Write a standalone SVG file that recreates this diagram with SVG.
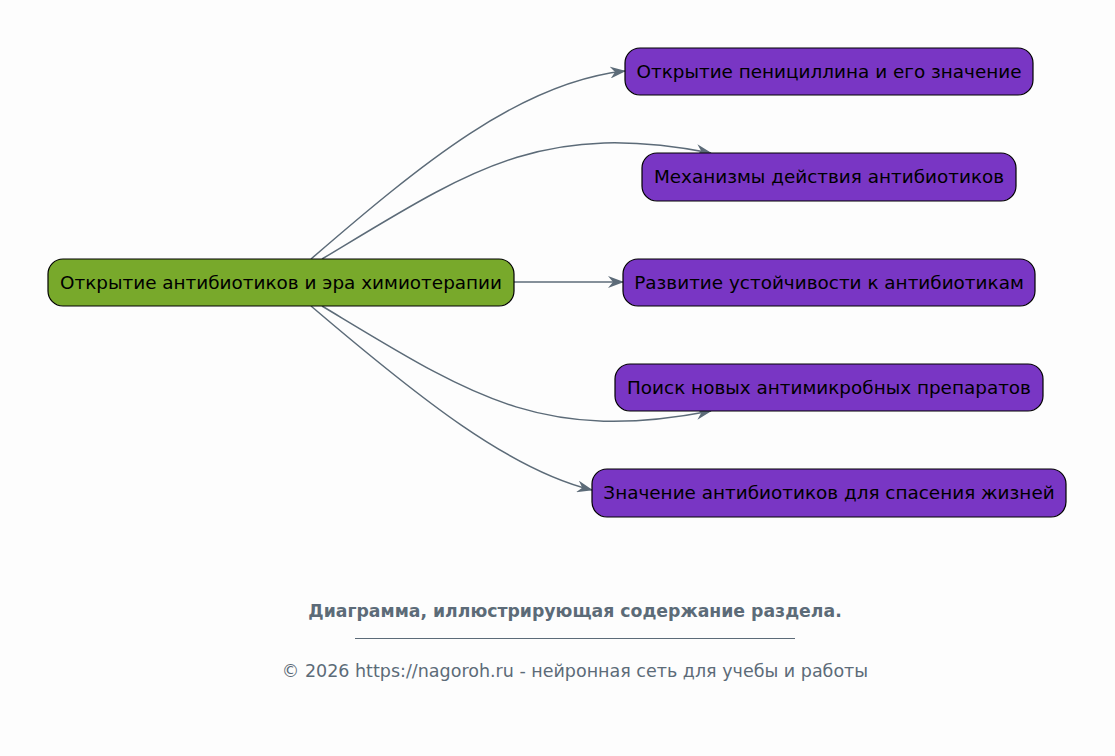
<svg xmlns="http://www.w3.org/2000/svg" width="1115" height="756" viewBox="0 0 1115 756">
<style>
.node rect{stroke:#000;stroke-width:1.2}
.root rect{fill:#78a92b}
.child rect{fill:#7936c4}
.node text{font-family:"DejaVu Sans",sans-serif;font-size:18.4px;fill:#000;text-anchor:middle;dominant-baseline:central}
.edge{fill:none;stroke:#5c6b78;stroke-width:1.5;marker-end:url(#arr)}
.foot{font-family:"DejaVu Sans",sans-serif;fill:#5c6b78;text-anchor:middle}
</style>
<defs>
<marker id="arr" viewBox="0 0 16 12" refX="15" refY="6" markerWidth="16" markerHeight="12" markerUnits="userSpaceOnUse" orient="auto">
<path d="M0,0 L16,6 L0,12 L5,6 z" fill="#5c6b78"/>
</marker>
</defs>
<rect width="1115" height="756" fill="#fdfdfd"/>
<g id="connectors">
<path class="edge" d="M311,259 C420,165 520,82 625,71"/>
<path class="edge" d="M322,259 C470,170 540,120 711,153"/>
<path class="edge" d="M514,282 L623,282"/>
<path class="edge" d="M322,306 C470,395 540,444 711,411"/>
<path class="edge" d="M311,306 C420,399 510,470 592,490"/>
</g>
<g id="root" class="node root"><rect x="48" y="259" width="466" height="47" rx="15"/><text x="281" y="282.5">Открытие антибиотиков и эра химиотерапии</text></g>
<g id="n1" class="node child"><rect x="625" y="48" width="408" height="47" rx="15"/><text x="829" y="71.5">Открытие пенициллина и его значение</text></g>
<g id="n2" class="node child"><rect x="642" y="153" width="374" height="48" rx="15"/><text x="829" y="176.5">Механизмы действия антибиотиков</text></g>
<g id="n3" class="node child"><rect x="623" y="259" width="412" height="47" rx="15"/><text x="829" y="282.5">Развитие устойчивости к антибиотикам</text></g>
<g id="n4" class="node child"><rect x="615" y="364" width="428" height="47" rx="15"/><text x="829" y="387.5">Поиск новых антимикробных препаратов</text></g>
<g id="n5" class="node child"><rect x="592" y="469" width="474" height="48" rx="15"/><text x="829" y="492.5">Значение антибиотиков для спасения жизней</text></g>
<g id="footer">
<text class="foot" x="575" y="617" font-size="17.3" font-weight="bold">Диаграмма, иллюстрирующая содержание раздела.</text>
<line x1="355" y1="638.5" x2="795" y2="638.5" stroke="#5c6b78" stroke-width="1"/>
<text class="foot" x="575" y="677" font-size="17.5">© 2026 https://nagoroh.ru - нейронная сеть для учебы и работы</text>
</g>
</svg>
